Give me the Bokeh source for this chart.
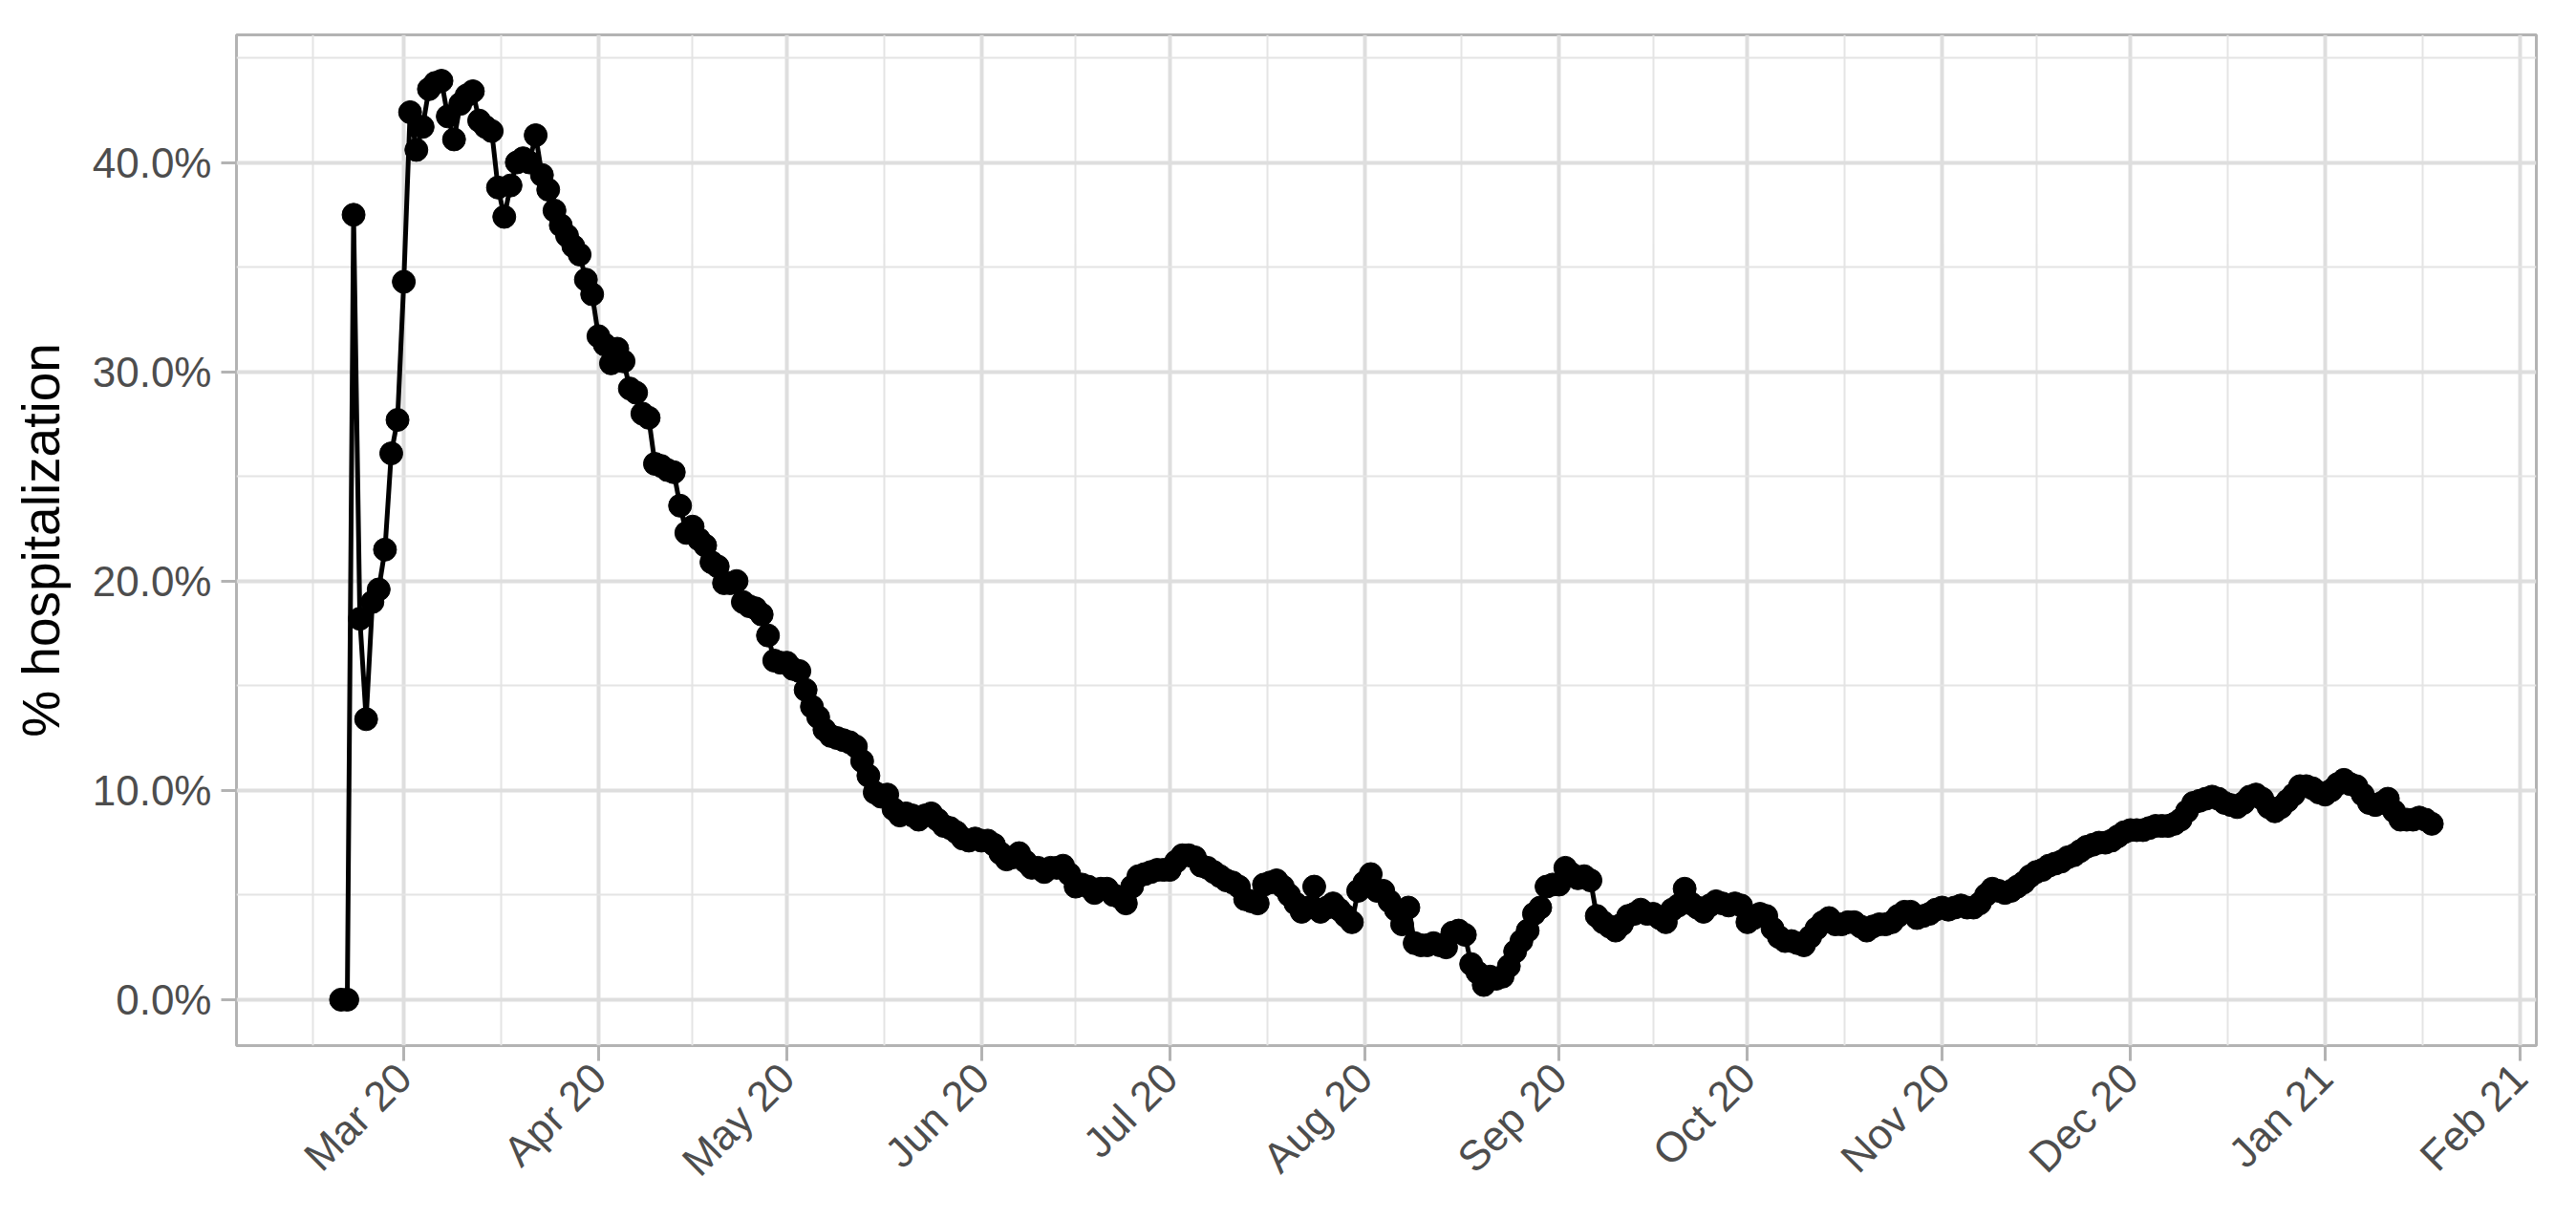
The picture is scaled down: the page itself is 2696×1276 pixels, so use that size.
import math
import pandas as pd
from bokeh.plotting import figure
from bokeh.models import Range1d, FixedTicker, ColumnDataSource
from bokeh.embed import file_html
from bokeh.resources import INLINE

# ---- data: daily % hospitalization, starting 2020-02-20 ----
start_date = "2020-02-20"
feb_2020 = [0.0, 0.0, 37.5, 18.2, 13.4, 19.0, 19.6, 21.5, 26.1, 27.7]
mar_2020 = [34.3, 42.4, 40.6, 41.7, 43.5, 43.8, 43.9, 42.2, 41.1, 42.8, 43.2, 43.4, 42.0, 41.7, 41.5, 38.8,
            37.4, 38.9, 40.0, 40.2, 40.0, 41.3, 39.4, 38.7, 37.7, 37.0, 36.5, 36.0, 35.6, 34.4, 33.7]
apr_2020 = [31.7, 31.3, 30.4, 31.1, 30.5, 29.2, 29.0, 28.0, 27.8, 25.6, 25.5, 25.3, 25.2, 23.6, 22.3,
            22.6, 22.0, 21.7, 20.9, 20.7, 19.9, 19.9, 20.0, 19.0, 18.8, 18.7, 18.4, 17.4, 16.2, 16.1]
may_2020 = [16.1, 15.8, 15.7, 14.8, 14.0, 13.5, 12.9, 12.6, 12.5, 12.4, 12.3, 12.1, 11.4, 10.7, 9.9, 9.7,
            9.8, 9.1, 8.8, 8.9, 8.8, 8.6, 8.8, 8.9, 8.6, 8.3, 8.2, 8.0, 7.7, 7.6, 7.7]
jun_2020 = [7.6, 7.6, 7.4, 7.0, 6.7, 6.8, 7.0, 6.6, 6.3, 6.3, 6.1, 6.3, 6.3, 6.4, 6.0, 5.4, 5.5, 5.4,
            5.1, 5.3, 5.3, 5.0, 4.9, 4.6, 5.4, 5.9, 6.0, 6.1, 6.2, 6.2]
jul_2020 = [6.2, 6.6, 6.9, 6.9, 6.8, 6.4, 6.3, 6.1, 5.9, 5.7, 5.6, 5.4, 4.8, 4.7, 4.6, 5.5, 5.6, 5.7,
            5.4, 5.0, 4.6, 4.2, 4.4, 5.4, 4.2, 4.4, 4.6, 4.3, 4.0, 3.7, 5.2]
aug_2020 = [5.6, 6.0, 5.2, 5.2, 4.7, 4.3, 3.6, 4.4, 2.7, 2.6, 2.6, 2.7, 2.6, 2.5, 3.2, 3.3, 3.1, 1.7,
            1.3, 0.7, 1.1, 1.0, 1.1, 1.6, 2.3, 2.8, 3.3, 4.1, 4.4, 5.4, 5.5]
sep_2020 = [5.5, 6.3, 6.0, 5.8, 5.9, 5.7, 4.0, 3.7, 3.5, 3.3, 3.6, 4.0, 4.1, 4.3, 4.1, 4.1, 3.9, 3.7,
            4.3, 4.5, 5.3, 4.6, 4.4, 4.2, 4.5, 4.7, 4.6, 4.5, 4.6, 4.5]
oct_2020 = [3.7, 3.9, 4.1, 4.0, 3.4, 3.0, 2.8, 2.8, 2.7, 2.6, 3.0, 3.4, 3.7, 3.9, 3.6, 3.6, 3.7, 3.7,
            3.5, 3.3, 3.5, 3.6, 3.6, 3.7, 4.0, 4.2, 4.2, 3.9, 4.0, 4.1, 4.3]
nov_2020 = [4.4, 4.3, 4.4, 4.5, 4.4, 4.4, 4.6, 5.0, 5.3, 5.2, 5.1, 5.2, 5.4, 5.6, 5.9, 6.1, 6.2, 6.4,
            6.5, 6.6, 6.8, 6.9, 7.1, 7.3, 7.4, 7.5, 7.5, 7.6, 7.8, 8.0]
dec_2020 = [8.1, 8.1, 8.1, 8.2, 8.3, 8.3, 8.3, 8.4, 8.6, 9.0, 9.4, 9.5, 9.6, 9.7, 9.6, 9.4, 9.3, 9.2,
            9.4, 9.7, 9.8, 9.6, 9.2, 9.0, 9.2, 9.5, 9.8, 10.2, 10.2, 10.1, 9.9]
jan_2021 = [9.8, 10.0, 10.3, 10.5, 10.3, 10.2, 9.8, 9.4, 9.3, 9.4, 9.6, 9.0, 8.6, 8.6, 8.6, 8.7, 8.6, 8.4]

x_tick_months = ["2020-03-01", "2020-04-01", "2020-05-01", "2020-06-01", "2020-07-01", "2020-08-01",
                 "2020-09-01", "2020-10-01", "2020-11-01", "2020-12-01", "2021-01-01", "2021-02-01"]
x_tick_labels = ["Mar 20", "Apr 20", "May 20", "Jun 20", "Jul 20", "Aug 20",
                 "Sep 20", "Oct 20", "Nov 20", "Dec 20", "Jan 21", "Feb 21"]
y_ticks = [0, 10, 20, 30, 40]
y_tick_labels = ["0.0%", "10.0%", "20.0%", "30.0%", "40.0%"]
y_minor = [5, 15, 25, 35, 45]

values = (feb_2020 + mar_2020 + apr_2020 + may_2020 + jun_2020 + jul_2020 + aug_2020 +
          sep_2020 + oct_2020 + nov_2020 + dec_2020 + jan_2021)
dates = pd.date_range(start_date, periods=len(values), freq="D")
source = ColumnDataSource(dict(date=dates, value=values))


def to_ms(ts):
    return int(pd.Timestamp(ts).value // 10**6)


x_min, x_max = to_ms(dates[0]), to_ms(dates[-1])
x_pad = 0.05 * (x_max - x_min)
y_min, y_max = 0.0, max(values)
y_pad = 0.05 * (y_max - y_min)

major_ms = [to_ms(m) for m in x_tick_months]
prev_month = to_ms("2020-02-01")
all_months = [prev_month] + major_ms
minor_ms = [(a + b) / 2 for a, b in zip(all_months[:-1], all_months[1:])]

p = figure(width=2680, height=1260, x_axis_type="datetime", output_backend="svg",
           toolbar_location=None, title=None,
           x_range=Range1d(x_min - x_pad, x_max + x_pad),
           y_range=Range1d(y_min - y_pad, y_max + y_pad),
           min_border_left=247, min_border_right=26, min_border_top=36, min_border_bottom=166)

p.background_fill_color = "white"
p.border_fill_color = "white"
p.outline_line_color = "#B3B3B3"
p.outline_line_width = 3

xt = FixedTicker(ticks=major_ms, minor_ticks=minor_ms)
yt = FixedTicker(ticks=y_ticks, minor_ticks=y_minor)
p.xaxis.ticker = xt
p.yaxis.ticker = yt
p.xgrid.ticker = xt
p.ygrid.ticker = yt
p.xaxis.major_label_overrides = dict(zip(major_ms, x_tick_labels))
p.yaxis.major_label_overrides = dict(zip(y_ticks, y_tick_labels))
p.xaxis.major_label_orientation = math.pi / 4

for g in (p.xgrid, p.ygrid):
    g.grid_line_color = "#DEDEDE"
    g.grid_line_width = 4
    g.minor_grid_line_color = "#E4E4E4"
    g.minor_grid_line_width = 2

for ax in (p.xaxis, p.yaxis):
    ax.axis_line_color = None
    ax.major_tick_line_color = "#B3B3B3"
    ax.major_tick_line_width = 3
    ax.major_tick_out = 16
    ax.major_tick_in = 0
    ax.minor_tick_line_color = None
    ax.major_label_text_font = "Liberation Sans"
    ax.major_label_text_font_size = "44px"
    ax.major_label_text_color = "#4D4D4D"

p.yaxis.major_label_standoff = 10
p.xaxis.major_label_standoff = 10
p.yaxis.axis_label = "% hospitalization"
p.yaxis.axis_label_text_font = "Liberation Sans"
p.yaxis.axis_label_text_font_size = "55px"
p.yaxis.axis_label_text_font_style = "normal"
p.yaxis.axis_label_text_color = "black"
p.yaxis.axis_label_standoff = 20

p.line("date", "value", source=source, line_color="black", line_width=5)
p.scatter("date", "value", source=source, size=24, fill_color="black", line_color="black")

open("out.html", "w").write(file_html(p, INLINE))
